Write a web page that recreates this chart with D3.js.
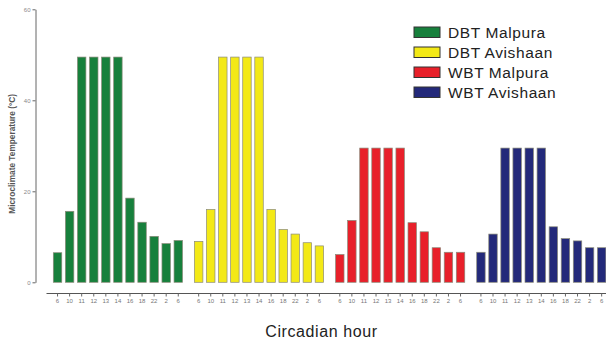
<!DOCTYPE html>
<html>
<head>
<meta charset="utf-8">
<script src="https://cdn.jsdelivr.net/npm/d3@7"></script>
<style>
  body { margin: 0; background: #fff; }
  svg { display: block; font-family: "Liberation Sans", Arial, sans-serif; }
</style>
</head>
<body>
<svg id="chart" width="606" height="343"></svg>
<script>
// data
const hours = ['6', '10', '11', '12', '13', '14', '16', '18', '22', '2', '6'];
const seriesNames = ['DBT Malpura', 'DBT Avishaan', 'WBT Malpura', 'WBT Avishaan'];
const seriesColors = ['#17803c', '#f3e916', '#e8202a', '#23297a'];
const dbtMalpura = [6.5, 15.6, 49.5, 49.5, 49.5, 49.5, 18.5, 13.2, 10.1, 8.5, 9.2];
const dbtAvishaan = [9.0, 16.0, 49.5, 49.5, 49.5, 49.5, 16.0, 11.6, 10.6, 8.7, 8.0];
const wbtMalpura = [6.1, 13.6, 29.5, 29.5, 29.5, 29.5, 13.1, 11.1, 7.6, 6.6, 6.6];
const wbtAvishaan = [6.6, 10.6, 29.5, 29.5, 29.5, 29.5, 12.2, 9.6, 9.1, 7.6, 7.6];
const yTicks = [0, 20, 40, 60];

const allSeries = [dbtMalpura, dbtAvishaan, wbtMalpura, wbtAvishaan];

const svg = d3.select('#chart');

// scales
const y = d3.scaleLinear().domain([0, 60]).range([282.3, 9.3]);
const outer = d3.scaleBand()
    .domain(d3.range(seriesNames.length))
    .range([51.5, 607.7])
    .paddingInner(0.059)
    .paddingOuter(0);
const inner = d3.scaleBand()
    .domain(d3.range(hours.length))
    .range([0, outer.bandwidth()])
    .paddingInner(0.3)
    .paddingOuter(0.15);

// bars
const groups = svg.selectAll('g.group')
    .data(allSeries)
    .enter()
    .append('g')
    .attr('class', 'group')
    .attr('transform', (d, i) => `translate(${outer(i)},0)`);

groups.selectAll('rect')
    .data((d, gi) => d.map(v => ({ v, gi })))
    .enter()
    .append('rect')
    .attr('x', (d, i) => inner(i))
    .attr('y', d => y(d.v))
    .attr('width', inner.bandwidth())
    .attr('height', d => y(0) - y(d.v))
    .attr('fill', d => seriesColors[d.gi])
    .attr('stroke', '#8a8a7a')
    .attr('stroke-width', 0.7);

// y axis
const yAxis = svg.append('g')
    .attr('transform', 'translate(35.5,0)')
    .call(d3.axisLeft(y).tickValues(yTicks).tickSize(3).tickSizeOuter(0).tickPadding(2));
yAxis.select('.domain').attr('stroke', '#666');
yAxis.selectAll('.tick line').attr('stroke', '#666');
yAxis.selectAll('.tick text')
    .attr('fill', '#888')
    .style('font-size', '6px');

svg.append('text')
    .attr('transform', `translate(15,${(y(0) + y(60)) / 2 + 8}) rotate(-90)`)
    .attr('text-anchor', 'middle')
    .style('font-size', '8.3px')
    .style('font-weight', 'bold')
    .attr('fill', '#555')
    .text('Microclimate Temperature (°C)');

// x axis
const xAxisY = 293.5;
svg.append('line')
    .attr('x1', outer.range()[0] - 5)
    .attr('x2', 606)
    .attr('y1', xAxisY)
    .attr('y2', xAxisY)
    .attr('stroke', '#555')
    .attr('stroke-width', 1);

outer.domain().forEach(gi => {
    const ax = svg.append('g')
        .attr('transform', `translate(${outer(gi)},${xAxisY})`)
        .call(d3.axisBottom(inner).tickSize(3).tickPadding(2).tickFormat(i => hours[i]));
    ax.select('.domain').remove();
    ax.selectAll('.tick line').attr('stroke', '#666');
    ax.selectAll('.tick text')
        .attr('fill', '#777')
        .style('font-size', '6px');
});

svg.append('text')
    .attr('x', 321.5)
    .attr('y', 337)
    .attr('text-anchor', 'middle')
    .style('font-size', '16px')
    .style('letter-spacing', '0.6px')
    .attr('fill', '#222')
    .text('Circadian hour');

// legend
const legend = svg.append('g').attr('transform', 'translate(414,27)');
const items = legend.selectAll('g')
    .data(seriesNames)
    .enter()
    .append('g')
    .attr('transform', (d, i) => `translate(0,${i * 20})`);
items.append('rect')
    .attr('width', 26)
    .attr('height', 10.5)
    .attr('fill', (d, i) => seriesColors[i])
    .attr('stroke', '#333')
    .attr('stroke-width', 1);
items.append('text')
    .attr('x', 34)
    .attr('y', 11)
    .style('font-size', '15.5px')
    .style('letter-spacing', '0.6px')
    .attr('fill', '#222')
    .text(d => d);
</script>
</body>
</html>
